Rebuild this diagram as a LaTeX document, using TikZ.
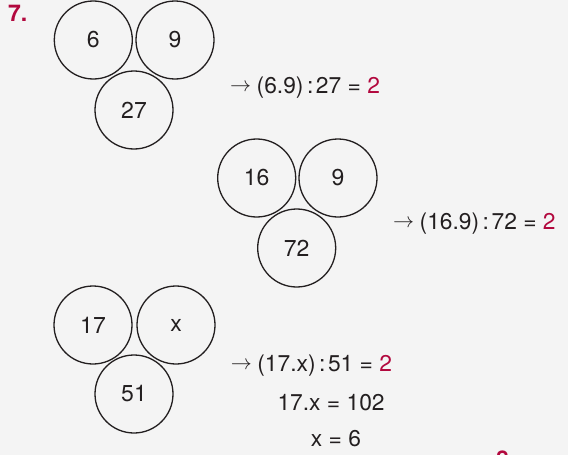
\documentclass[tikz,border=0pt]{standalone}
\usepackage{fontspec}
\setmainfont{TeX Gyre Heros}
\definecolor{bg}{RGB}{244,244,244}
\definecolor{ink}{RGB}{35,31,32}
\definecolor{ansred}{RGB}{178,8,62}
\newcommand{\myarr}{\raisebox{2.2pt}{\resizebox{21pt}{!}{$\rightarrow$}}\hspace{5.5pt}}
\newcommand{\mycol}{\kern3.5pt:\kern2.5pt}
\begin{document}
\begin{tikzpicture}[x=1pt,y=-1pt,
  ring/.style={circle,draw=ink,line width=1.3pt,minimum size=78pt,inner sep=0pt,text=ink,font=\fontsize{23}{25}\selectfont},
  eq/.style={anchor=base west,inner sep=0pt,text=ink,font=\fontsize{22.8}{25}\selectfont}]
\fill[bg] (0,0) rectangle (568,455);
\useasboundingbox (0,0) rectangle (568,455);
\node[anchor=base west,inner sep=0pt,text=ansred,font=\fontsize{23}{26}\selectfont\bfseries] (lbl) at (8,21.7) {7.};
% group 1
\node[ring] (a1) at (93.3,40) {6};
\node[ring] (b1) at (175,40) {9};
\node[ring] (c1) at (134,110) {27};
\node[eq] (e1) at (230,93.3) {\myarr(6.9)\mycol27 = \textcolor{ansred}{2}};
% group 2
\node[ring] (a2) at (256.7,178) {16};
\node[ring] (b2) at (338,178) {9};
\node[ring] (c2) at (296.7,248) {72};
\node[eq] (e2) at (393,229.3) {\myarr(16.9)\mycol72 = \textcolor{ansred}{2}};
% group 3
\node[ring] (a3) at (93,325) {17};
\node[ring] (b3) at (176,325) {x};
\node[ring] (c3) at (134,394) {51};
\node[eq] (e3) at (230.7,371.7) {\myarr(17.x)\mycol51 = \textcolor{ansred}{2}};
\node[eq] (e4) at (277.3,410) {17.x = 102};
\node[eq] (e5) at (310.7,446.7) {x = 6};
\begin{scope}
\clip (0,0) rectangle (568,455);
\node[anchor=base west,inner sep=0pt,text=ansred,font=\fontsize{23}{26}\selectfont\bfseries] (nxt) at (496,467.5) {8};
\end{scope}
\end{tikzpicture}
\end{document}
